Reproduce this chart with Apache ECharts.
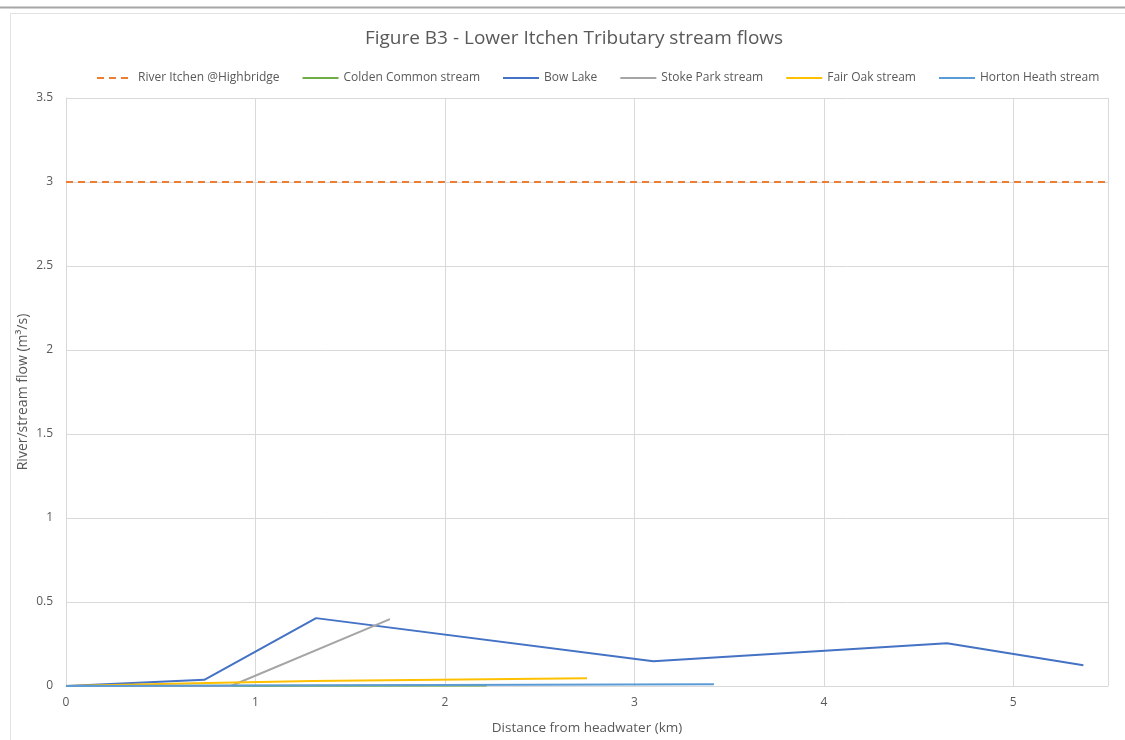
<!DOCTYPE html>
<html>
<head>
<meta charset="utf-8">
<title>Figure B3 - Lower Itchen Tributary stream flows</title>
<script src="https://cdn.jsdelivr.net/npm/echarts@6/dist/echarts.min.js"></script>
<style>
  html, body { margin: 0; padding: 0; background: #ffffff; }
  #chart { width: 1125px; height: 740px; }
</style>
</head>
<body>
<div id="chart"></div>
<script>
// Flow measurements: [distance from headwater (km), flow (m³/s)]
const seriesNames = [
  'River Itchen @Highbridge',
  'Colden Common stream',
  'Bow Lake',
  'Stoke Park stream',
  'Fair Oak stream',
  'Horton Heath stream'
];
const itchenHighbridge = [[0, 3.0], [5.5, 3.0]];
const coldenCommon = [[0, 0], [2.22, 0.003]];
const bowLake = [[0, 0], [0.73, 0.037], [1.32, 0.404], [3.1, 0.147], [4.65, 0.255], [5.37, 0.123]];
const stokePark = [[0, 0], [0.87, 0], [1.71, 0.398]];
const fairOak = [[0, 0], [0.75, 0.018], [1.3, 0.03], [2.75, 0.046]];
const hortonHeath = [[0, 0], [3.42, 0.01]];
const xTicks = { min: 0, max: 5.5, interval: 1 };
const yTicks = { min: 0, max: 3.5, interval: 0.5 };

const seriesColors = ['#ED7D31', '#70AD47', '#4472C4', '#A5A5A5', '#FFC000', '#5B9BD5'];
const seriesData = [itchenHighbridge, coldenCommon, bowLake, stokePark, fairOak, hortonHeath];

const textColor = '#595959';
const gridColor = '#d9d9d9';
const fontFamily = '"Open Sans", "Noto Sans", sans-serif';

const chart = echarts.init(document.getElementById('chart'), null, { renderer: 'canvas' });

chart.setOption({
  backgroundColor: '#ffffff',
  animation: false,
  textStyle: { fontFamily: fontFamily, color: textColor },
  title: {
    text: 'Figure B3 - Lower Itchen Tributary stream flows',
    left: 569,
    textAlign: 'center',
    top: 24,
    textStyle: { fontFamily: fontFamily, fontSize: 19, fontWeight: 'normal', color: textColor }
  },
  legend: {
    top: 67,
    left: 91,
    itemWidth: 36,
    itemHeight: 2,
    itemGap: 22,
    textStyle: { fontFamily: fontFamily, fontSize: 12, color: textColor },
    data: seriesNames
  },
  graphic: [
    { type: 'line', silent: true, shape: { x1: 0, y1: 7.5, x2: 1125, y2: 7.5 }, style: { stroke: '#a6a6a6', lineWidth: 2 } },
    { type: 'line', silent: true, shape: { x1: 10, y1: 13.5, x2: 1125, y2: 13.5 }, style: { stroke: '#e3e3e3', lineWidth: 1 } },
    { type: 'line', silent: true, shape: { x1: 10.5, y1: 13, x2: 10.5, y2: 740 }, style: { stroke: '#e3e3e3', lineWidth: 1 } }
  ],
  grid: { left: 66, right: 17, top: 98, bottom: 53, containLabel: false },
  xAxis: {
    type: 'value',
    min: xTicks.min,
    max: xTicks.max,
    interval: xTicks.interval,
    name: 'Distance from headwater (km)',
    nameLocation: 'middle',
    nameGap: 35,
    nameMoveOverlap: false,
    nameTextStyle: { fontFamily: fontFamily, fontSize: 13.5, color: textColor },
    axisLine: { show: true, lineStyle: { color: gridColor, width: 1 } },
    axisTick: { show: false },
    axisLabel: {
      color: textColor, fontSize: 12, margin: 11,
      formatter: function (v) { return Number.isInteger(v) ? String(v) : ''; }
    },
    splitLine: { show: true, lineStyle: { color: gridColor, width: 1 } }
  },
  yAxis: {
    type: 'value',
    min: yTicks.min,
    max: yTicks.max,
    interval: yTicks.interval,
    name: 'River/stream flow (m³/s)',
    nameLocation: 'middle',
    nameGap: 36,
    nameMoveOverlap: false,
    nameTextStyle: { fontFamily: fontFamily, fontSize: 14, color: textColor },
    axisLine: { show: true, lineStyle: { color: gridColor, width: 1 } },
    axisTick: { show: false },
    axisLabel: { color: textColor, fontSize: 12, margin: 13 },
    splitLine: { show: true, lineStyle: { color: gridColor, width: 1 } }
  },
  series: seriesNames.map(function (name, i) {
    return {
      name: name,
      type: 'line',
      data: seriesData[i],
      symbol: 'none',
      z: 2 + i,
      color: seriesColors[i],
      lineStyle: {
        color: seriesColors[i],
        width: 2,
        type: i === 0 ? [7, 5] : 'solid',
        cap: 'butt'
      }
    };
  })
});
</script>
</body>
</html>
